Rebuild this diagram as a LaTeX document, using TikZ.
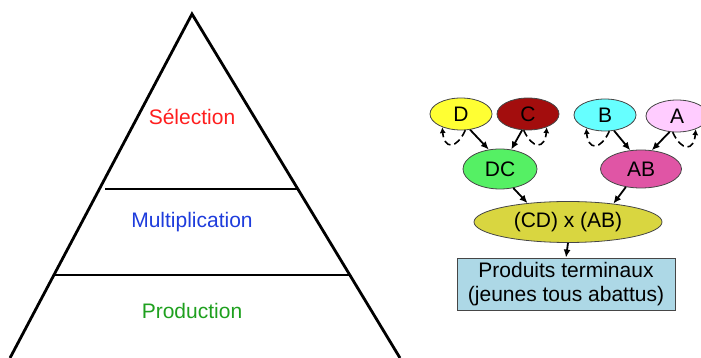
\documentclass[tikz,border=0pt]{standalone}
\usepackage{fontspec}
\setmainfont{Liberation Sans}
\usepackage{tikz}
\usetikzlibrary{calc}
\usetikzlibrary{shapes}
\usetikzlibrary{arrows.meta}
\definecolor{jauneD}{RGB}{255,255,51}
\definecolor{rougeC}{RGB}{163,13,13}
\definecolor{cyanB}{RGB}{102,255,255}
\definecolor{roseA}{RGB}{255,204,255}
\definecolor{vertDC}{RGB}{85,240,100}
\definecolor{roseAB}{RGB}{224,85,165}
\definecolor{oliveX}{RGB}{217,214,64}
\definecolor{bleuP}{RGB}{173,216,230}
\definecolor{bord}{RGB}{70,70,70}
\tikzset{
  race/.style={shape=ellipse, draw=bord, line width=0.8pt, inner sep=0pt, minimum width=62pt, minimum height=32pt},
  fleche/.style={line width=1.8pt, -{Latex[length=8pt,width=7pt]}},
  boucle/.style={line width=1.6pt, dash pattern=on 7pt off 4pt, -{Latex[length=6pt,width=6pt]}},
  etage/.style={line width=2.8pt}
}
\newcommand{\racenode}[4]{ \node[race, fill=#4] (#1) at ( #2 , #3 ) {#1};}
\newcommand{\bouclegauche}[1]{ \draw[boucle] (#1.285) to[out=245, in=275, looseness=2.4] (#1.215);}
\newcommand{\boucledroite}[1]{ \draw[boucle] (#1.255) to[out=295, in=265, looseness=2.4] (#1.325);}
\newcommand{\fleche}[2]{ \draw[fleche] (#1) -- (#2);}

\begin{document}
\begin{tikzpicture}[x=1pt, y=1pt, font=\fontsize{21}{24}\selectfont]
        \useasboundingbox (0,0) rectangle (701,358);

        % pyramide
        \draw[etage, line join=miter] (10,0) -- (192,344) -- (400,0);
        \draw[etage] (105,169) -- (297,169);
        \draw[etage] (54,83) -- (349,83);

        \node[text={rgb,255:red,255;green,30;blue,30}] (sel) at (192,241) {Sélection};
        \node[text={rgb,255:red,30;green,60;blue,220}] (mult) at (192,136) {Multiplication};
        \node[text={rgb,255:red,30;green,160;blue,30}] (prod) at (192,47) {Production};

        % races parentes
        \racenode{D}{461}{244}{jauneD}
        \racenode{C}{528}{244}{rougeC}
        \racenode{B}{605}{243}{cyanB}
        \racenode{A}{677}{242}{roseA}

        \bouclegauche{D}
        \boucledroite{C}
        \bouclegauche{B}
        \boucledroite{A}

        % croisements
        \node[race, fill=vertDC, minimum width=74pt, minimum height=40pt] (DC) at (500,189) {DC};
        \node[race, fill=roseAB, minimum width=81pt, minimum height=38pt] (AB) at (641,189) {AB};
        \node[race, fill=oliveX, minimum width=188pt, minimum height=41pt] (CDAB) at (568,136) {(CD) x (AB)};
        \node[draw=bord, line width=0.8pt, fill=bleuP, inner sep=0pt, minimum width=218pt, minimum height=52pt, align=center] (term) at (566,74) {Produits terminaux\\(jeunes tous abattus)};

        \fleche{D.300}{DC.120}
        \fleche{C.250}{DC.60}
        \fleche{B.300}{AB.120}
        \fleche{A.245}{AB.60}
        \fleche{DC.305}{CDAB.155}
        \fleche{AB.230}{CDAB.22}
        \fleche{CDAB.south}{term.north}

    \end{tikzpicture}
\end{document}
